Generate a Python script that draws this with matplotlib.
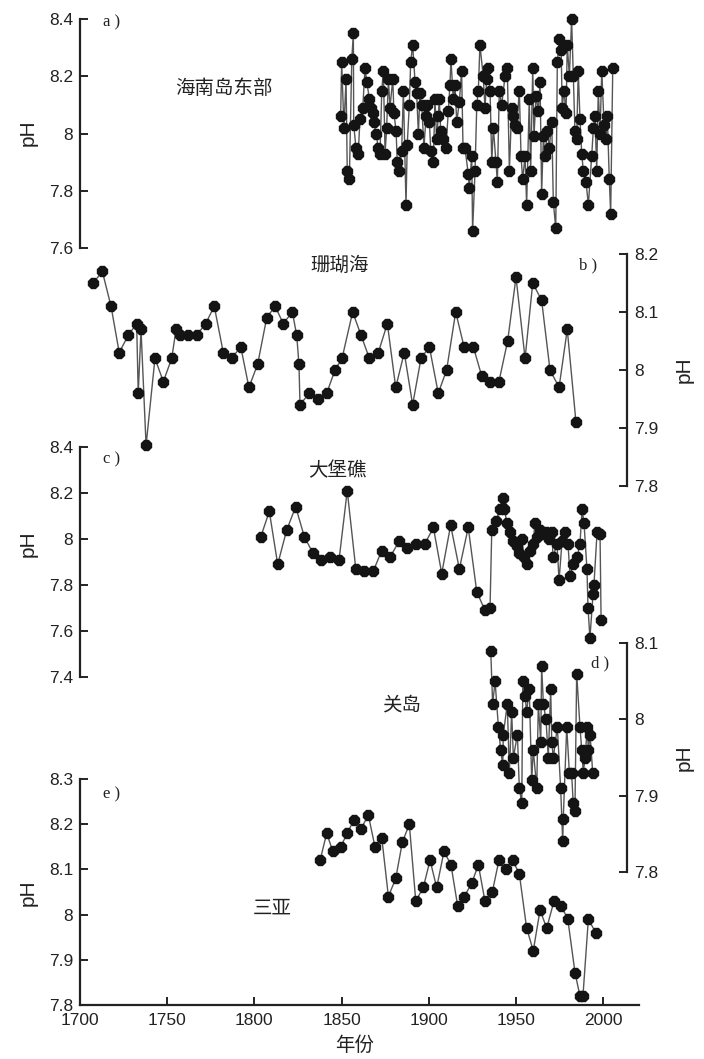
import matplotlib
matplotlib.use("Agg")
import matplotlib.pyplot as plt
from matplotlib.ticker import FormatStrFormatter

# a) 海南岛东部
yr_a = [1849.5, 1850.1, 1851.4, 1852.6, 1853.3, 1854.5, 1855.9, 1856.8, 1857.0, 1858.3,
        1859.6, 1860.6, 1862.2, 1863.5, 1864.5, 1866.0, 1866.8, 1867.9, 1868.6, 1869.8,
        1871.1, 1872.1, 1873.1, 1874.0, 1875.0, 1875.9, 1876.9, 1877.8, 1879.4, 1880.1,
        1881.3, 1882.0, 1883.2, 1884.5, 1885.5, 1887.0, 1887.7, 1888.9, 1889.7, 1890.8,
        1892.2, 1893.1, 1894.1, 1895.0, 1896.0, 1897.3, 1898.5, 1899.2, 1900.4, 1901.2,
        1902.7, 1903.6, 1904.6, 1905.5, 1906.1, 1906.9, 1908.4, 1909.9, 1911.3, 1912.2,
        1912.8, 1914.1, 1915.1, 1916.1, 1917.6, 1918.9, 1919.7, 1920.8, 1922.7, 1923.3,
        1924.7, 1925.2, 1926.6, 1927.6, 1928.5, 1929.4, 1931.3, 1932.3, 1933.3, 1934.2,
        1935.2, 1936.2, 1937.1, 1938.6, 1939.4, 1940.5, 1941.9, 1943.8, 1945.1, 1946.3,
        1947.6, 1948.6, 1949.5, 1950.5, 1952.0, 1953.0, 1953.9, 1955.3, 1956.2, 1957.7,
        1958.5, 1959.7, 1960.4, 1961.6, 1962.9, 1963.9, 1964.8, 1965.8, 1966.7, 1968.1,
        1969.2, 1970.6, 1971.5, 1972.9, 1973.8, 1975.0, 1976.0, 1976.6, 1977.6, 1978.8,
        1979.5, 1980.7, 1982.0, 1983.0, 1983.9, 1984.9, 1985.8, 1986.8, 1987.8, 1988.7,
        1990.3, 1991.6, 1993.5, 1994.5, 1995.4, 1996.4, 1997.3, 1998.3, 1999.3, 2000.6,
        2001.7, 2002.5, 2003.6, 2004.4, 2005.6]
ph_a = [8.06, 8.25, 8.02, 8.19, 7.87, 7.84, 8.26, 8.35, 8.03, 7.95,
        7.93, 8.05, 8.09, 8.23, 8.18, 8.12, 8.09, 8.07, 8.04, 8.00,
        7.95, 7.93, 8.15, 8.22, 7.93, 8.02, 8.19, 8.09, 8.19, 8.07,
        8.01, 7.90, 7.87, 7.94, 8.15, 7.75, 7.96, 8.10, 8.25, 8.31,
        8.18, 8.14, 8.00, 8.14, 8.10, 7.95, 8.06, 8.10, 8.04, 7.94,
        7.90, 8.12, 7.98, 8.06, 8.12, 8.01, 7.98, 7.95, 8.08, 8.17,
        8.26, 8.12, 8.17, 8.04, 8.11, 8.22, 7.95, 7.95, 7.86, 7.81,
        7.92, 7.66, 7.87, 8.10, 8.15, 8.31, 8.20, 8.09, 8.19, 8.23,
        8.15, 7.90, 8.02, 7.90, 7.83, 8.15, 8.10, 8.20, 8.23, 7.87,
        8.09, 8.06, 8.03, 8.02, 8.15, 7.92, 7.84, 7.92, 7.75, 8.12,
        7.87, 8.23, 7.99, 8.13, 8.08, 8.18, 7.79, 7.99, 7.92, 8.01,
        7.95, 8.04, 7.76, 7.67, 8.25, 8.33, 8.29, 8.09, 8.15, 8.07,
        8.31, 8.20, 8.40, 8.20, 8.01, 7.98, 8.22, 8.05, 7.93, 7.87,
        7.83, 7.75, 7.92, 8.02, 8.06, 7.87, 8.15, 8.00, 8.22, 8.03,
        7.98, 8.06, 7.84, 7.72, 8.23]

# b) 珊瑚海
yr_b = [1707.6, 1712.8, 1717.8, 1722.5, 1727.7, 1732.5, 1733.4, 1735.0, 1737.9, 1743.0,
        1747.8, 1752.6, 1755.1, 1757.4, 1762.1, 1766.9, 1772.1, 1777.0, 1782.2, 1787.0,
        1792.2, 1796.9, 1801.9, 1807.1, 1811.9, 1816.6, 1821.8, 1824.3, 1825.6, 1826.2,
        1831.5, 1836.4, 1841.5, 1846.3, 1850.3, 1856.4, 1861.2, 1866.0, 1871.1, 1876.3,
        1881.1, 1886.0, 1890.8, 1895.6, 1900.4, 1905.5, 1910.3, 1915.5, 1920.3, 1925.6,
        1930.4, 1935.2, 1940.3, 1945.3, 1950.1, 1955.3, 1959.7, 1964.8, 1969.6, 1974.8,
        1979.5, 1984.5]
ph_b = [8.15, 8.17, 8.11, 8.03, 8.06, 8.08, 7.96, 8.07, 7.87, 8.02,
        7.98, 8.02, 8.07, 8.06, 8.06, 8.06, 8.08, 8.11, 8.03, 8.02,
        8.04, 7.97, 8.01, 8.09, 8.11, 8.08, 8.10, 8.06, 8.01, 7.94,
        7.96, 7.95, 7.96, 8.00, 8.02, 8.10, 8.06, 8.02, 8.03, 8.08,
        7.97, 8.03, 7.94, 8.02, 8.04, 7.96, 8.00, 8.10, 8.04, 8.04,
        7.99, 7.98, 7.98, 8.05, 8.16, 8.02, 8.15, 8.12, 8.00, 7.97,
        8.07, 7.91]

# c) 大堡礁
yr_c = [1803.7, 1808.6, 1813.4, 1818.6, 1823.7, 1828.7, 1833.5, 1838.2, 1843.4, 1848.6,
        1853.3, 1858.2, 1863.1, 1868.2, 1873.1, 1877.8, 1883.0, 1887.7, 1892.7, 1897.9,
        1902.7, 1907.5, 1912.6, 1917.6, 1922.7, 1927.6, 1932.3, 1935.2, 1936.2, 1938.6,
        1940.9, 1942.5, 1943.4, 1944.9, 1946.7, 1948.4, 1950.7, 1951.8, 1953.5, 1954.7,
        1956.4, 1958.1, 1959.9, 1961.0, 1962.1, 1963.9, 1965.6, 1967.3, 1969.0, 1970.8,
        1971.3, 1973.6, 1974.8, 1976.5, 1978.2, 1979.9, 1981.1, 1982.8, 1985.1, 1986.8,
        1988.0, 1989.1, 1990.8, 1991.4, 1992.5, 1994.3, 1994.8, 1996.6, 1998.3, 1998.9]
ph_c = [8.01, 8.12, 7.89, 8.04, 8.14, 8.01, 7.94, 7.91, 7.92, 7.91,
        8.21, 7.87, 7.86, 7.86, 7.95, 7.92, 7.99, 7.96, 7.98, 7.98,
        8.05, 7.85, 8.06, 7.87, 8.05, 7.77, 7.69, 7.70, 8.04, 8.08,
        8.13, 8.18, 8.13, 8.07, 8.03, 7.99, 7.97, 7.94, 8.00, 7.92,
        7.89, 7.95, 7.98, 8.07, 8.01, 8.04, 8.02, 8.03, 8.00, 8.03,
        7.92, 7.98, 7.82, 7.99, 8.03, 7.98, 7.84, 7.89, 7.92, 7.98,
        8.13, 8.07, 7.87, 7.70, 7.57, 7.76, 7.80, 8.03, 8.02, 7.65]

# d) 关岛
yr_d = [1935.6, 1936.7, 1938.1, 1940.0, 1941.3, 1942.5, 1942.8, 1945.1, 1946.3, 1947.6,
        1948.6, 1950.9, 1952.0, 1953.4, 1954.0, 1955.3, 1956.2, 1957.7, 1959.1, 1960.0,
        1962.0, 1962.9, 1964.3, 1964.8, 1965.8, 1967.3, 1968.6, 1970.0, 1970.6, 1971.5,
        1973.8, 1975.7, 1976.9, 1977.2, 1979.2, 1980.7, 1982.0, 1982.9, 1983.9, 1984.9,
        1986.8, 1987.8, 1988.7, 1989.7, 1991.0, 1991.6, 1992.6, 1994.1]
ph_d = [8.09, 8.02, 8.05, 7.99, 7.96, 7.94, 7.98, 8.02, 7.93, 8.01,
        7.95, 7.98, 7.91, 7.89, 8.05, 8.03, 8.01, 8.04, 7.92, 7.96,
        7.91, 8.02, 7.97, 8.07, 8.02, 8.00, 7.95, 8.04, 7.97, 7.95,
        7.99, 7.91, 7.84, 7.87, 7.99, 7.93, 7.93, 7.89, 7.88, 8.06,
        7.99, 7.96, 7.93, 7.95, 7.99, 7.96, 7.98, 7.93]

# e) 三亚
yr_e = [1837.7, 1841.5, 1845.0, 1849.5, 1853.3, 1857.2, 1861.2, 1865.4, 1869.2, 1873.1,
        1876.9, 1881.1, 1884.9, 1888.9, 1892.6, 1896.9, 1900.8, 1904.6, 1908.8, 1912.8,
        1916.6, 1920.5, 1924.7, 1928.5, 1932.3, 1936.5, 1940.3, 1944.2, 1948.2, 1952.0,
        1956.2, 1960.0, 1963.9, 1967.7, 1971.9, 1975.9, 1979.8, 1984.0, 1986.8, 1988.5,
        1991.6, 1995.8]
ph_e = [8.12, 8.18, 8.14, 8.15, 8.18, 8.21, 8.19, 8.22, 8.15, 8.17,
        8.04, 8.08, 8.16, 8.20, 8.03, 8.06, 8.12, 8.06, 8.14, 8.11,
        8.02, 8.04, 8.07, 8.11, 8.03, 8.05, 8.12, 8.10, 8.12, 8.09,
        7.97, 7.92, 8.01, 7.97, 8.03, 8.02, 7.99, 7.87, 7.82, 7.82,
        7.99, 7.96]

year_ticks = [1700, 1750, 1800, 1850, 1900, 1950, 2000]

W, H = 704, 1059
X0, PXYR = 80.0, 523.0 / 300   # pixel of 1700, pixels per year
TICKFONT = ['Liberation Sans', 'DejaVu Sans']
CJK = ['Noto Sans CJK SC', 'DejaVu Sans']
SERIF = ['Liberation Serif', 'DejaVu Serif']

fig = plt.figure(figsize=(W / 100, H / 100), dpi=100)


def panel(top, bottom, right, ylim, yticks, side, xs, ys):
    ax = fig.add_axes([X0 / W, 1 - bottom / H, (right - X0) / W, (bottom - top) / H])
    ax.patch.set_visible(False)
    ax.set_xlim(1700, 1700 + (right - X0) / PXYR)
    ax.set_ylim(*ylim)
    for s in ax.spines.values():
        s.set_visible(False)
    ax.spines[side].set_visible(True)
    ax.spines[side].set_linewidth(1.6)
    ax.spines[side].set_color('#222222')
    ax.set_yticks(yticks)
    ax.yaxis.set_major_formatter(FormatStrFormatter('%g'))
    ax.yaxis.set_ticks_position(side)
    ax.tick_params(axis='y', direction='in', length=6, width=1.4, pad=5,
                   labelsize=12.5, colors='#222222')
    for lab in ax.get_yticklabels():
        lab.set_family(TICKFONT)
    ax.set_xticks([])
    ax.plot(xs, ys, '-', color='#555555', lw=1.0, marker='8', ms=7.8,
            mfc='#141414', mec='#141414', clip_on=False, zorder=3)
    return ax


ax_a = panel(19, 248, 640, (7.6, 8.4), [7.6, 7.8, 8.0, 8.2, 8.4], 'left', yr_a, ph_a)
ax_b = panel(254, 486, 627, (7.8, 8.2), [7.8, 7.9, 8.0, 8.1, 8.2], 'right', yr_b, ph_b)
ax_c = panel(447, 677, 640, (7.4, 8.4), [7.4, 7.6, 7.8, 8.0, 8.2, 8.4], 'left', yr_c, ph_c)
ax_d = panel(643, 872, 627, (7.8, 8.1), [7.8, 7.9, 8.0, 8.1], 'right', yr_d, ph_d)
ax_e = panel(779, 1005, 639, (7.8, 8.3), [7.8, 7.9, 8.0, 8.1, 8.2, 8.3], 'left', yr_e, ph_e)

ax_e.spines['bottom'].set_visible(True)
ax_e.spines['bottom'].set_linewidth(1.6)
ax_e.spines['bottom'].set_color('#222222')
ax_e.set_xticks(year_ticks)
ax_e.tick_params(axis='x', direction='in', length=6, width=1.4, pad=6,
                 labelsize=12.5, colors='#222222')
for lab in ax_e.get_xticklabels():
    lab.set_family(TICKFONT)


def txt(x, y, s, **kw):
    fig.text(x / W, 1 - y / H, s, **kw)


# pH labels
for (x, y) in [(28, 133), (28, 544), (28, 893), (684, 370), (684, 758)]:
    txt(x, y, 'pH', rotation=90, ha='center', va='center', fontsize=15,
        family=TICKFONT, color='#222222')

# panel letters
for (x, y, s) in [(103, 22, 'a )'), (579, 265, 'b )'), (103, 459, 'c )'),
                  (591, 663, 'd )'), (103, 794, 'e )')]:
    txt(x, y, s, ha='left', va='center', fontsize=12, family=SERIF, color='#222222')

# site names
for (x, y, s) in [(224, 88, '海南岛东部'), (340, 265, '珊瑚海'), (337, 471, '大堡礁'),
                  (402, 705, '关岛'), (272, 908, '三亚')]:
    txt(x, y, s, ha='center', va='center', fontsize=14, family=CJK, color='#222222')

txt(355, 1045, '年份', ha='center', va='center', fontsize=14, family=CJK, color='#222222')

fig.savefig('out.png', dpi=100)
